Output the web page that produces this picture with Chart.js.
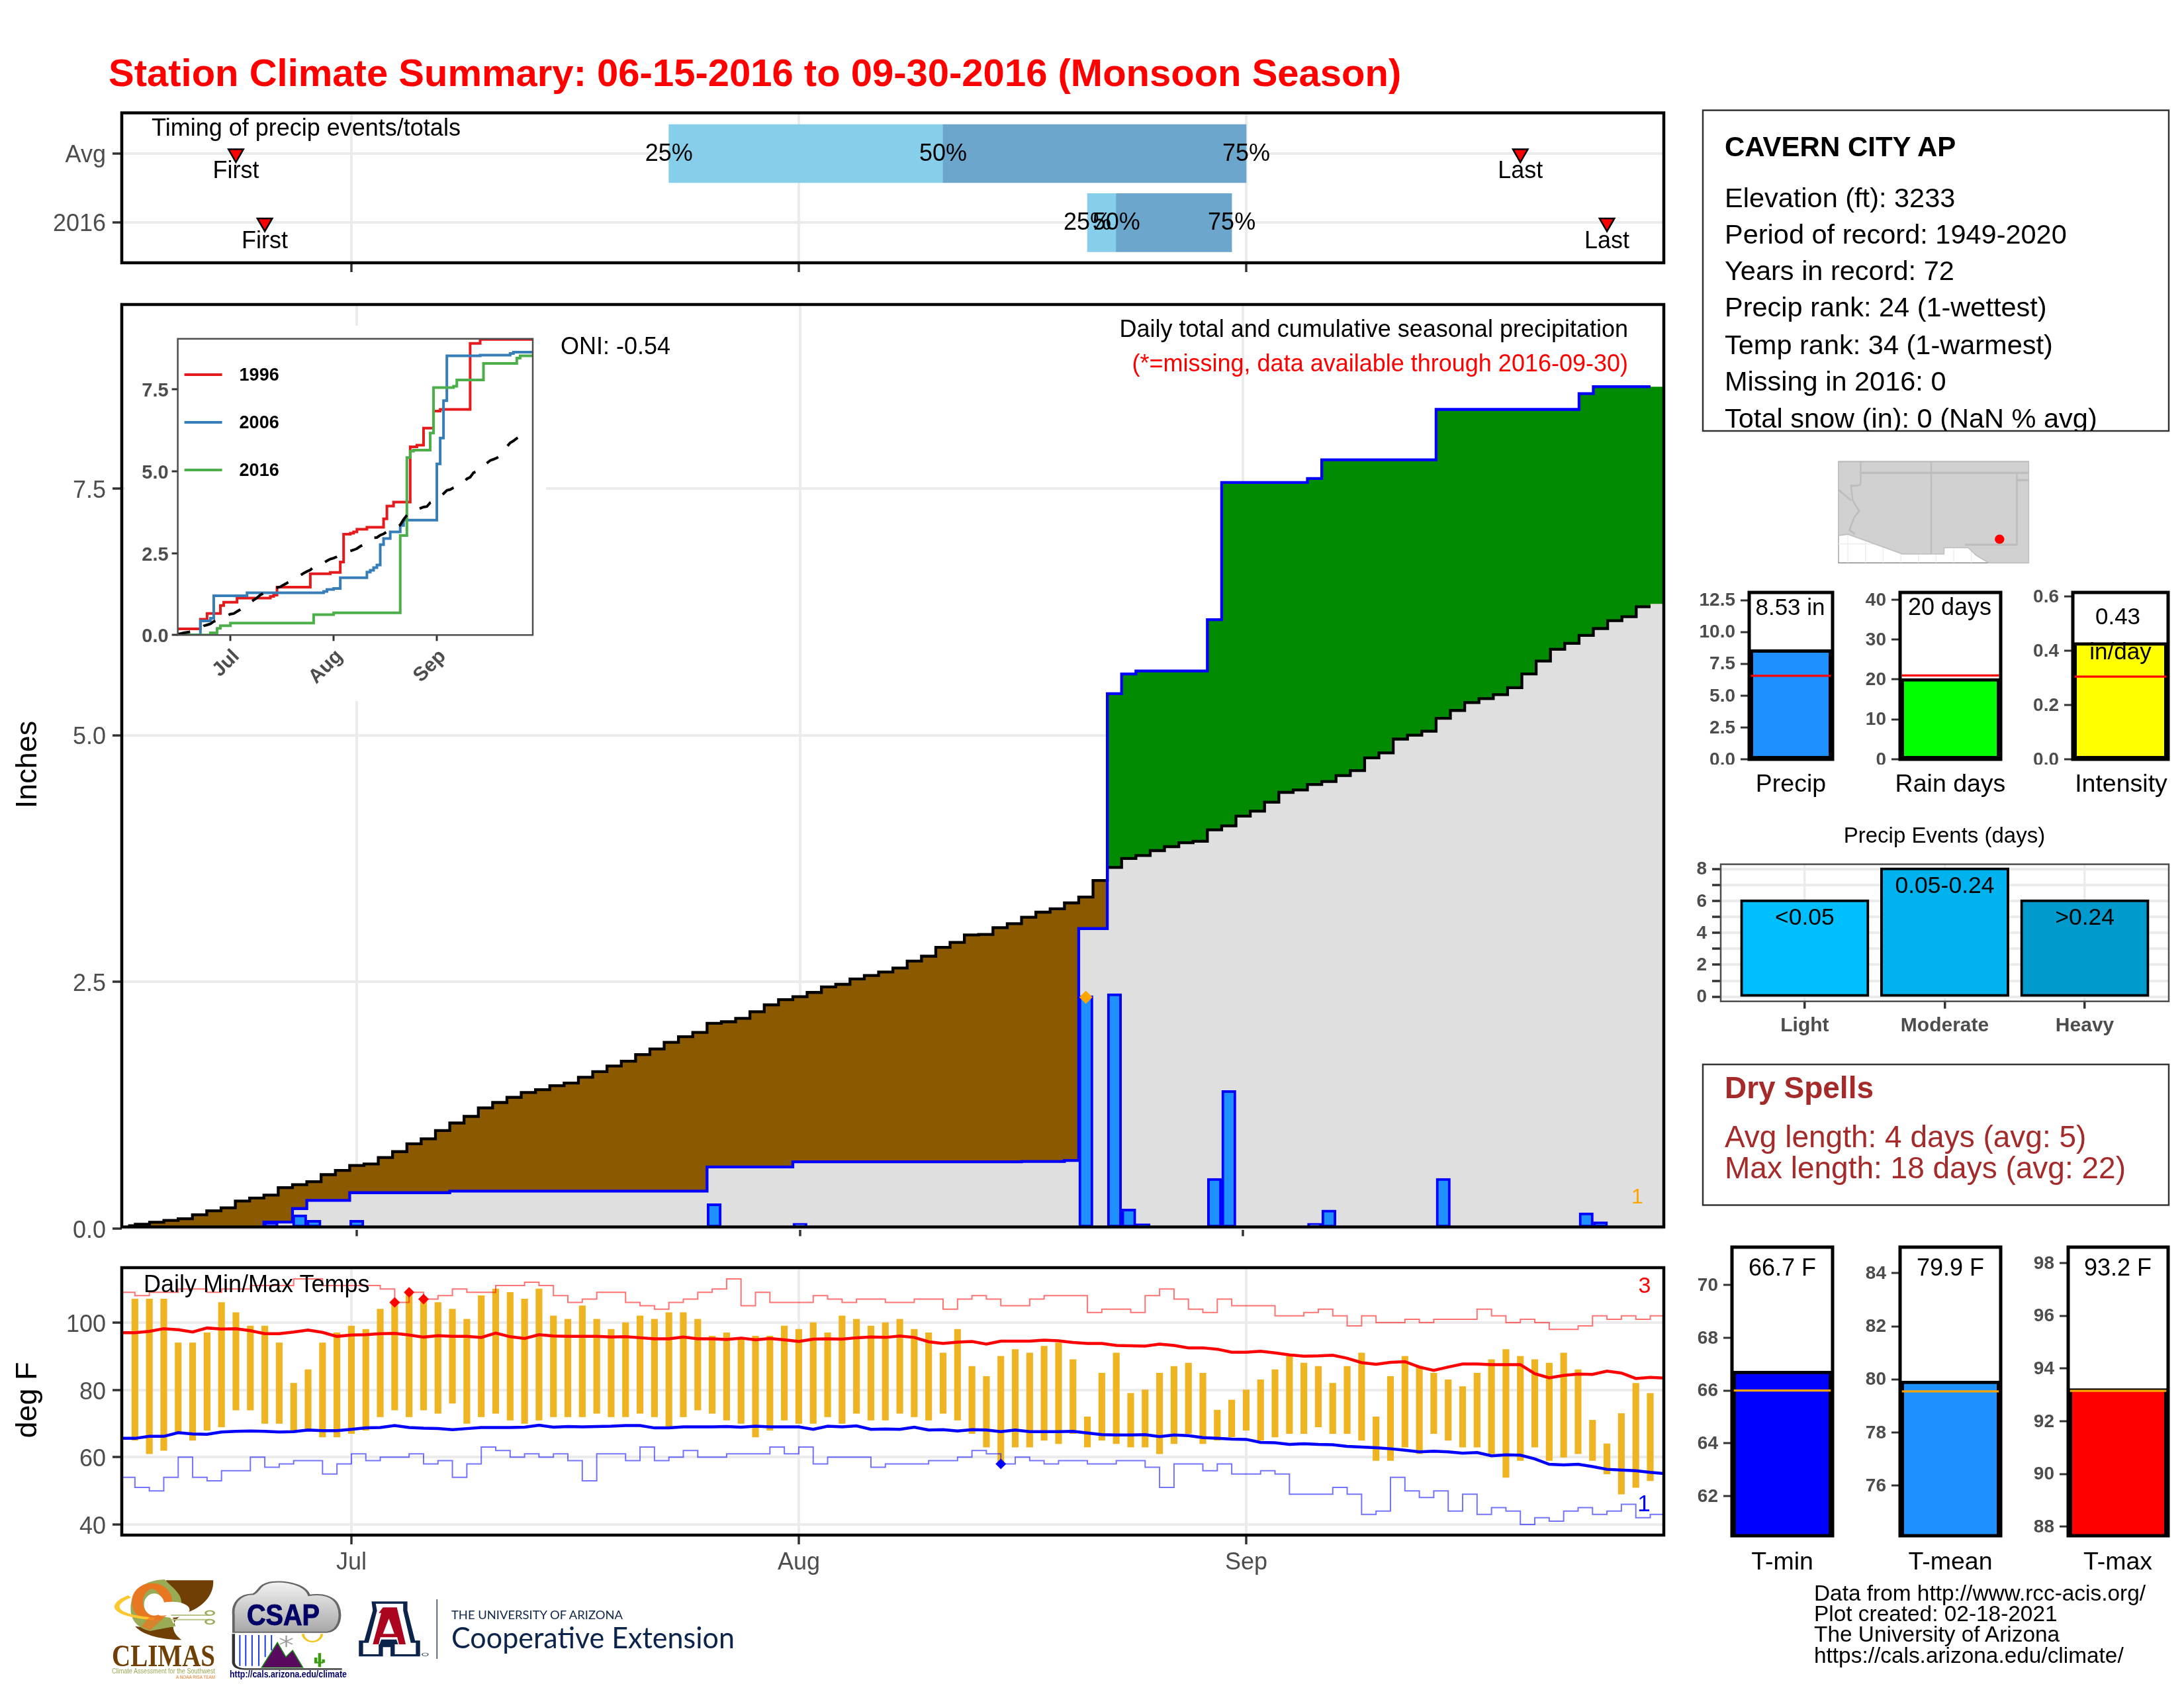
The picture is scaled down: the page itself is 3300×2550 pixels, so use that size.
<!DOCTYPE html>
<html><head><meta charset="utf-8">
<script src="https://cdn.jsdelivr.net/npm/chart.js@4/dist/chart.umd.js"></script>
<style>
html,body{margin:0;padding:0;background:#fff;width:3300px;height:2550px;overflow:hidden}
canvas{position:absolute;display:block}
svg{position:absolute;left:0;top:0;z-index:20}
</style></head><body>
<script>
// ---------- DATA ----------
const monthTicks=[16,47,78];
const monthLabels=['Jul','Aug','Sep'];
// cumulative average precip, one per day from Jun 15 (index 0)
const avgCum=[.03,.044,.065,.083,.10,.14,.18,.21,.28,.31,.34,.415,.445,.475,.547,.59,.64,.655,.72,.78,.86,.91,.994,1.07,1.137,1.224,1.278,1.33,1.38,1.408,1.448,1.475,1.533,1.59,1.647,1.696,1.763,1.82,1.888,1.944,1.988,2.08,2.096,2.13,2.198,2.267,2.32,2.35,2.393,2.449,2.475,2.529,2.565,2.60,2.64,2.71,2.76,2.85,2.90,2.975,2.98,3.05,3.09,3.155,3.206,3.24,3.30,3.36,3.527,3.66,3.75,3.78,3.83,3.87,3.91,3.925,4.04,4.08,4.18,4.23,4.32,4.42,4.445,4.50,4.53,4.59,4.64,4.77,4.82,4.96,5.0,5.04,5.17,5.25,5.33,5.37,5.41,5.48,5.62,5.75,5.87,5.93,6.01,6.08,6.16,6.20,6.30,6.33];
// cumulative 2016 precip
const obsCum=[0,0,0,0,0,0,0,0,0,0,.067,.067,.203,.286,.286,.286,.364,.364,.364,.364,.364,.364,.364,.38,.38,.38,.38,.38,.38,.38,.38,.38,.38,.38,.38,.38,.38,.38,.38,.38,.38,.625,.625,.625,.625,.625,.625,.677,.677,.677,.677,.677,.677,.677,.677,.677,.677,.677,.677,.677,.677,.677,.677,.68,.68,.68,.69,3.04,3.04,5.42,5.62,5.65,5.65,5.65,5.65,5.65,6.17,7.56,7.56,7.56,7.56,7.56,7.56,7.6,7.79,7.79,7.79,7.79,7.79,7.79,7.79,7.79,8.3,8.3,8.3,8.3,8.3,8.3,8.3,8.3,8.3,8.3,8.46,8.53,8.53,8.53,8.53,8.53];
// daily precip on rain days
const rainDays=[10,12,13,16,41,47,67,69,70,71,76,77,83,84,92,102,103];
const rainAmounts=[.067,.14,.085,.085,.253,.055,2.36,2.38,.2,.05,.51,1.4,.055,.19,.51,.16,.07];
const recordRainDays=[67];
const recordRainValues=[2.345];
// inset step series: day index of each change, and new level
const y1996Days=[0,7,9,13,14,18,28,29,30,40,46,49,50,52,53,54,57,62,63,65,70,72,74,77,79,88,91,107];
const y1996Vals=[.19,.48,.66,.9,1.0,1.13,1.18,1.22,1.46,1.87,1.91,2.23,3.08,3.11,3.15,3.23,3.29,3.55,3.94,4.06,5.75,5.80,6.32,6.84,6.89,8.91,9.03,9.03];
const y2006Days=[0,7,10,11,21,44,45,47,49,57,58,59,60,61,62,64,67,68,78,79,80,81,91,100,101,107];
const y2006Vals=[0,.43,.51,1.2,1.29,1.33,1.39,1.42,1.75,1.92,1.98,2.06,2.14,2.76,2.95,3.15,3.35,3.51,5.23,6.02,7.16,8.53,8.55,8.6,8.64,8.64];
const y2016Days=[0,10,12,13,16,41,47,67,69,70,71,76,77,83,84,92,102,103,107];
const y2016Vals=[0,.067,.203,.286,.364,.625,.677,3.04,5.42,5.62,5.65,6.17,7.56,7.6,7.79,8.3,8.46,8.53,8.53];
// daily max/min, index 1 .. 106 (Jun 16 ..)
const tMax=[107,107,107,94,94,97,106,103,99,99,94,82,86,94,97,99,98,104,106,109,107,106,104,101,108,110,109,107,110,102,101,105,101,98,100,102,101,103,103,101,96,97,95,96,96,99,98,100,97,102,101,99,100,101,98,97,91,98,87,84,90,92,91,93,94,89,72,85,91,79,80,85,87,88,85,74,77,80,83,86,90,88,87,82,87,91,72,84,90,87,85,83,81,85,89,92,90,89,88,91,86,71,64,73,82,79];
const tMin=[65,61,62,67,65,68,69,74,74,70,70,68,68,66,66,67,68,72,74,72,74,73,76,70,72,73,71,70,71,72,72,72,73,72,72,73,72,69,72,74,73,71,70,66,68,71,70,70,72,70,73,71,71,73,72,71,73,71,67,63,58,63,63,65,64,67,63,65,64,63,63,61,64,67,64,65,66,68,65,66,67,67,69,67,67,65,59,59,63,61,67,65,63,63,61,54,59,63,59,60,61,59,55,49,51,53];
// records and averages, index 0 .. 107
const recHigh=[109,108,109,109,110,110,109,110,110,111,111,111,113,113,111,111,111,111,110,106,109,107,108,110,109,109,111,111,112,111,108,106,107,109,109,106,105,104,106,107,109,110,113,105,109,106,106,106,108,107,106,107,107,106,106,107,107,104,107,108,107,105,105,107,108,108,108,103,104,104,103,108,110,107,104,103,107,105,105,105,102,102,103,104,102,99,102,100,100,101,100,101,101,101,104,102,100,101,100,98,98,99,102,101,102,101,102,102];
const recLow=[54,51,50,54,60,54,53,56,56,60,57,58,59,59,55,58,61,59,60,60,61,58,59,54,58,63,62,60,61,60,61,59,53,61,61,59,63,59,60,62,60,60,61,61,61,63,61,63,58,60,60,60,57,58,58,58,59,59,60,62,61,58,60,59,58,59,59,58,58,59,59,57,51,58,58,56,58,55,55,56,55,49,49,49,51,49,43,44,54,50,48,50,44,49,43,45,44,40,42,41,44,45,43,44,46,42,43,43];
const avgHigh=[97,97,97.4,98.2,97.9,97.2,98.4,98.1,98.2,97.6,96.7,96.7,97.2,97.8,97.1,95.9,96.3,96.4,96.7,96.8,96.3,95.7,96.1,95.9,95.9,95.6,96.9,95.8,95.3,96.4,96,95.9,95.9,95.9,95.7,95.8,95.5,95.2,95.2,95.7,95.2,95.2,95,95.4,94.9,95.3,94.9,94.4,95.1,95.2,95.1,95.5,95.7,95.6,96,95.6,94.3,93.8,94.2,94.4,93.6,94.5,94.5,94.5,94.8,94.6,94.1,93.8,93.8,93.2,93.1,93,93.6,93.2,92.5,92.5,92.1,91.2,91.2,91.5,91,90.4,90,90.1,90.3,89.4,88.1,87.6,88.2,88.4,86.8,85.8,86.8,87.7,87.7,87.5,87.5,87.5,84.8,83.6,84.3,84.7,84.6,85.6,85,83.4,83.7,83.5];
const avgLow=[65.6,65.6,66.2,66.2,67.3,66.9,66.8,67.5,67.7,67.8,67.7,67.5,67.6,68.1,67.9,67.9,68.3,68.7,68.8,69.4,68.8,68.6,68.5,68.2,68.5,68.8,68.8,68.8,68.9,69.5,68.9,69.1,69,69.1,69.2,69.4,69.4,68.7,68.7,69,69,69,69.1,68.9,69.2,69,69,69,68.3,69.2,69,69.3,68.3,68.4,68.3,68.9,68.1,68.2,67.8,68.2,68.1,67.6,68.1,67.6,67.6,67.6,67.7,67.2,66.7,66.6,66.6,66.7,66.1,66.6,66.4,65.8,65.6,65.4,65.3,64.4,64.3,63.8,64,63.8,63.7,63.2,63,62.8,62.5,62.1,61.6,61.8,61.6,61.2,61.4,60.4,60.7,60.6,59.5,57.9,57.7,57.9,57.2,56.4,56.2,56,55.5,55.1];
const recordHighDays=[19,20,21], recordHighVals=[106,109,107];
const recordLowDays=[61], recordLowVals=[58];
// timing panel
const timingRows=['2016','Avg'];
const avgQuartiles=[38,57,78], obsQuartiles=[67,69,77];
const avgFirstLast=[8,97], obsFirstLast=[10,103];
const quartileLabels=['25%','50%','75%'];
// summary bars
const precipTotal=8.53, precipAvg=6.56;
const rainDayCount=20, rainDayAvg=21;
const intensity=.427, intensityAvg=.305;
const eventNames=['Light','Moderate','Heavy'];
const eventRanges=['<0.05','0.05-0.24','>0.24'];
const eventCounts=[6,8,6];
const tMinMean=66.7, tMinAvg=66;
const tMeanMean=79.9, tMeanAvg=79.55;
const tMaxMean=93.2, tMaxAvg=93.15;

// ---------- HELPERS ----------
const FONT="'Liberation Sans'";
const GREY='#4d4d4d';
const inRange=(a,n)=>a.map((v,i)=>({x:i+n,y:v}));
function axis(axisName,min,max,vals,labels,o={}){
  return {type:'linear',axis:axisName,min,max,offset:false,border:{display:false},
    grid:{offset:false,color:o.gridColor||'#ebebeb',lineWidth:o.gridWidth===undefined?4:o.gridWidth,drawOnChartArea:o.onArea!==false,
      display:o.gridOff?false:true,drawTicks:!o.noTick,tickColor:o.tickColor||'#333333',tickWidth:o.tickWidth||3.5,tickLength:o.tickLength||14},
    ticks:{display:!!labels,autoSkip:false,maxRotation:o.rot||0,minRotation:o.rot||0,padding:o.pad===undefined?10:o.pad,labelOffset:o.lab||0,
      font:{family:FONT,size:o.size||36,weight:o.bold?'bold':'normal'},color:GREY,callback:(v,i)=>labels?labels[i]:''},
    afterBuildTicks:ax=>{ax.ticks=vals.map(v=>({value:v}));}};
}
function makeChart(box,plot,cfg,frame,extra){
  const c=document.createElement('canvas');
  c.width=box.r-box.l;c.height=box.b-box.t;
  c.style.left=box.l+'px';c.style.top=box.t+'px';c.style.width=c.width+'px';c.style.height=c.height+'px';
  if(cfg.bg)c.style.background=cfg.bg;
  if(cfg.z)c.style.zIndex=cfg.z;
  document.body.appendChild(c);
  const fitX=s=>{s.height=box.b-plot.b;s.paddingLeft=s.paddingRight=s.paddingTop=s.paddingBottom=0;};
  const fitY=s=>{s.width=plot.l-box.l;s.paddingLeft=s.paddingRight=s.paddingTop=s.paddingBottom=0;};
  cfg.scales.x.afterFit=fitX;cfg.scales.y.afterFit=fitY;
  const n=cfg.layers.length;
  cfg.layers.forEach((d,i)=>{d.order=n-i;});
  return new Chart(c,{type:'line',data:{datasets:cfg.layers},options:{
    responsive:false,animation:false,devicePixelRatio:1,events:[],
    layout:{padding:{left:0,bottom:0,top:plot.t-box.t,right:box.r-plot.r}},
    plugins:{legend:{display:false},tooltip:{enabled:false}},
    elements:{point:{radius:0}},scales:cfg.scales},
    plugins:[{id:'frame',afterDatasetsDraw(ch){
      const g=ch.ctx,a=ch.chartArea;
      g.save();
      if(extra)extra(ch,g);
      g.strokeStyle=frame.color;g.lineWidth=frame.width;
      g.strokeRect(a.left,a.top,a.right-a.left,a.bottom-a.top);
      g.restore();
    }}]});
}
const line=(data,color,width,o={})=>Object.assign({type:'line',data,borderColor:color,borderWidth:width,pointRadius:0,fill:false,tension:0},o);
const dots=(xs,ys,color,r)=>({type:'line',showLine:false,data:xs.map((x,i)=>({x,y:ys[i]})),pointStyle:'rectRot',pointRadius:r,pointBackgroundColor:color,pointBorderColor:color,pointBorderWidth:0});

// ---------- TIMING PANEL ----------
const tBox={l:0,t:155,r:2530,b:420},tPlot={l:184,t:167,r:2514,b:397};
makeChart(tBox,tPlot,{
  scales:{x:axis('x',.09,106.94,monthTicks,null),y:axis('y',-.58,1.589,[0,1],timingRows,{lab:3})},
  layers:[
    {type:'bar',indexAxis:'y',grouped:false,barThickness:88,backgroundColor:'#87CEEB',borderWidth:0,data:[{y:1,x:[avgQuartiles[0],avgQuartiles[1]]},{y:0,x:[obsQuartiles[0],obsQuartiles[1]]}]},
    {type:'bar',indexAxis:'y',grouped:false,barThickness:88,backgroundColor:'#6CA6CD',borderWidth:0,data:[{y:1,x:[avgQuartiles[1],avgQuartiles[2]]},{y:0,x:[obsQuartiles[1],obsQuartiles[2]]}]},
    {type:'line',showLine:false,data:[{x:avgFirstLast[0],y:1},{x:avgFirstLast[1],y:1},{x:obsFirstLast[0],y:0},{x:obsFirstLast[1],y:0}],
      pointStyle:'triangle',pointRotation:180,pointRadius:13,pointBackgroundColor:'#ff0000',pointBorderColor:'#000',pointBorderWidth:2.5}
  ]},{color:'#000',width:4.5},(ch,g)=>{
    const X=ch.scales.x,Y=ch.scales.y;
    g.fillStyle='#000';g.font='36px '+FONT;g.textAlign='center';g.textBaseline='middle';
    [[avgQuartiles,1],[obsQuartiles,0]].forEach(([q,row])=>q.forEach((v,i)=>g.fillText(quartileLabels[i],X.getPixelForValue(v),Y.getPixelForValue(row)+1)));
    g.textBaseline='alphabetic';
    [[avgFirstLast,1,37],[obsFirstLast,0,39]].forEach(([q,row,off])=>{
      g.fillText('First',X.getPixelForValue(q[0]),Y.getPixelForValue(row)+off);
      g.fillText('Last',X.getPixelForValue(q[1]),Y.getPixelForValue(row)+off);
    });
  });

// ---------- MAIN PRECIP PANEL ----------
const minSeries=avgCum.map((v,i)=>Math.min(v,obsCum[i]));
const fillPts=s=>inRange(s,0).concat([{x:108,y:s[s.length-1]}]);
const strokePts=s=>inRange(s.slice(0,107),0).concat([{x:106.5,y:s[106]}]);
makeChart({l:0,t:450,r:2530,b:1880},{l:184,t:459,r:2514,b:1853.5},{
  scales:{x:axis('x',-.444,107.43,monthTicks,null),y:axis('y',.017,9.363,[0,2.5,5,7.5],['0.0','2.5','5.0','7.5'],{lab:4})},
  layers:[
    line(fillPts(obsCum),'transparent',0,{stepped:'middle',fill:'origin',backgroundColor:'#008B00'}),
    line(fillPts(avgCum),'transparent',0,{stepped:'middle',fill:'origin',backgroundColor:'#8B5A00'}),
    line(fillPts(minSeries),'transparent',0,{stepped:'middle',fill:'origin',backgroundColor:'#DFDFDF'}),
    {type:'bar',grouped:false,barThickness:21.6,backgroundColor:'#1E90FF',borderColor:'#0000FF',borderWidth:4,borderSkipped:false,data:rainDays.map((d,i)=>({x:d,y:rainAmounts[i]}))},
    line(strokePts(avgCum),'#000',4.3,{stepped:'middle'}),
    line(strokePts(obsCum),'#0000FF',4.3,{stepped:'middle'}),
    dots(recordRainDays,recordRainValues,'#FFA500',10)
  ]},{color:'#000',width:4.5});

// ---------- INSET ----------
const steps=(xs,ys)=>xs.map((x,i)=>({x,y:ys[i]}));
makeChart({l:189,t:492,r:825,b:1059},{l:268.6,t:511.8,r:805,b:959.3},{
  bg:'#fff',z:5,
  scales:{x:axis('x',.2,106.8,monthTicks,monthLabels,{onArea:false,rot:45,size:30,bold:true,tickLength:9,tickWidth:3,pad:6,lab:9}),
          y:axis('y',0,9.05,[0,2.5,5,7.5],['0.0','2.5','5.0','7.5'],{onArea:false,size:29,bold:true,tickLength:9,tickWidth:3,pad:5,lab:3})},
  layers:[
    line(steps(y1996Days,y1996Vals),'#E41A1C',4,{stepped:true}),
    line(steps(y2006Days,y2006Vals),'#377EB8',4,{stepped:true}),
    line(steps(y2016Days,y2016Vals),'#4DAF4A',4,{stepped:true}),
    line(inRange(avgCum.slice(0,106),0),'#000',4,{borderDash:[20,22]})
  ]},{color:GREY,width:2.5},(ch,g)=>{
    const a=ch.chartArea;
    const rows=[['1996','#E41A1C',76],['2006','#377EB8',148],['2016','#4DAF4A',220]];
    rows.forEach(([t,c,dy])=>{
      const y=490+dy-ch.canvas.offsetTop;
      g.strokeStyle=c;g.lineWidth=4;g.beginPath();g.moveTo(a.left+10,y);g.lineTo(a.left+67,y);g.stroke();
      g.fillStyle='#000';g.font='bold 27px '+FONT;g.textAlign='left';g.textBaseline='middle';g.fillText(t,a.left+93,y+2);
    });
  });

// ---------- TEMPERATURE PANEL ----------
makeChart({l:0,t:1905,r:2530,b:2395},{l:184,t:1915,r:2514,b:2319},{
  scales:{x:axis('x',.09,106.94,monthTicks,monthLabels,{pad:6}),y:axis('y',36.85,116.33,[40,60,80,100],['40','60','80','100'],{lab:4})},
  layers:[
    {type:'bar',grouped:false,barThickness:9.5,backgroundColor:'#EEB422',borderWidth:0,data:tMax.map((v,i)=>({x:i+1,y:[tMin[i],v]}))},
    line(inRange(recHigh,0),'rgba(255,0,0,.55)',2,{stepped:true}),
    line(inRange(recLow,0),'rgba(0,0,255,.55)',2,{stepped:true}),
    line(inRange(avgHigh,0),'#ff0000',4.5),
    line(inRange(avgLow,0),'#0000ff',4.5),
    dots(recordHighDays,recordHighVals,'#ff0000',8),
    dots(recordLowDays,recordLowVals,'#0000ff',8)
  ]},{color:'#000',width:4.5});

// ---------- SMALL SUMMARY BARS ----------
function smallBar(plot,val,avg,color,refColor,ticks,tickLab,min,max){
  const w=plot.r-plot.l;
  makeChart({l:plot.l-100,t:plot.t-12,r:plot.r+8,b:plot.b+8},plot,{
    scales:{x:axis('x',.4,1.6,[1],null,{gridOff:true,noTick:true}),
            y:axis('y',min,max,ticks,tickLab,{gridOff:false,onArea:false,size:28,bold:true,tickLength:13,tickWidth:3,pad:8,lab:1})},
    layers:[
      {type:'bar',grouped:false,barThickness:w-6,inflateAmount:2,backgroundColor:color,borderColor:'#000',borderWidth:5,borderSkipped:false,data:[{x:1,y:val}]},
      line([{x:.42,y:avg},{x:1.58,y:avg}],refColor,3.2)
    ]},{color:'#000',width:5});
}
smallBar({l:2643,t:894.5,r:2769,b:1147},precipTotal,precipAvg,'#1E90FF','#ff0000',[0,2.5,5,7.5,10,12.5],['0.0','2.5','5.0','7.5','10.0','12.5'],0,13.1);
smallBar({l:2871,t:894.5,r:3023,b:1147},rainDayCount,rainDayAvg,'#00FF00','#ff0000',[0,10,20,30,40],['0','10','20','30','40'],0,41.8);
smallBar({l:3132,t:894.5,r:3276,b:1147},intensity,intensityAvg,'#FFFF00','#ff0000',[0,.2,.4,.6],['0.0','0.2','0.4','0.6'],0,.6155);
smallBar({l:2616.6,t:1884.4,r:2768.8,b:2321},tMinMean,tMinAvg,'#0000FF','#FFA500',[62,64,66,68,70],['62','64','66','68','70'],60.5,71.43);
smallBar({l:2871,t:1884.4,r:3023,b:2321},tMeanMean,tMeanAvg,'#1E90FF','#FFA500',[76,78,80,82,84],['76','78','80','82','84'],74.11,84.98);
smallBar({l:3125,t:1884.4,r:3276,b:2321},tMaxMean,tMaxAvg,'#FF0000','#FFA500',[88,90,92,94,96,98],['88','90','92','94','96','98'],87.66,98.6);

// ---------- PRECIP EVENTS ----------
makeChart({l:2500,t:1295,r:3285,b:1580},{l:2600,t:1305.6,r:3277,b:1512.7},{
  scales:{x:axis('x',.4,3.6,[1,2,3],eventNames,{size:30,bold:true,tickLength:11,pad:8,gridWidth:3.5}),
          y:axis('y',-.29,8.29,[0,1,2,3,4,5,6,7,8],['0','','2','','4','','6','','8'],{size:28,bold:true,tickLength:13,pad:8,lab:1})},
  layers:[
    {type:'bar',grouped:false,barThickness:191,inflateAmount:2,backgroundColor:['#00BFFF','#00B2EE','#009ACD'],borderColor:'#000',borderWidth:4,borderSkipped:false,
     data:eventCounts.map((v,i)=>({x:i+1,y:v}))}
  ]},{color:GREY,width:2.5},(ch,g)=>{
    const X=ch.scales.x,Y=ch.scales.y;
    g.fillStyle='#000';g.font='35.5px '+FONT;g.textAlign='center';g.textBaseline='alphabetic';
    eventRanges.forEach((t,i)=>g.fillText(t,X.getPixelForValue(i+1),Y.getPixelForValue(eventCounts[i])+36));
  });

// ---------- STATIC TEXT AND LOGOS ----------
const NS='http://www.w3.org/2000/svg';
const T=[ // text, x, baseline, size, colour, anchor, bold, clip
 ['Station Climate Summary: 06-15-2016 to 09-30-2016 (Monsoon Season)',164,130,58,'#ff0000','start',1],
 ['Timing of precip events/totals',229,205,36,'#000','start'],
 ['ONI: -0.54',847,535,36,'#000','start'],
 ['Daily total and cumulative seasonal precipitation',2460,509,36,'#000','end'],
 ['(*=missing, data available through 2016-09-30)',2460,561,36,'#ff0000','end'],
 ['1',2474,1818,32,'#FFA500','middle'],
 ['Daily Min/Max Temps',217,1952,36,'#000','start'],
 ['3',2485,1953,34,'#ff0000','middle'],
 ['1',2484,2283,35,'#0000ff','middle'],
 ['CAVERN CITY AP',2606,236,42,'#000','start',1],
 ['Elevation (ft): 3233',2606,312.6,41.5,'#000','start'],
 ['Period of record: 1949-2020',2606,368,41.5,'#000','start'],
 ['Years in record: 72',2606,423,41.5,'#000','start'],
 ['Precip rank: 24 (1-wettest)',2606,478,41.5,'#000','start'],
 ['Temp rank: 34 (1-warmest)',2606,534.6,41.5,'#000','start'],
 ['Missing in 2016: 0',2606,590,41.5,'#000','start'],
 ['Total snow (in): 0 (NaN % avg)',2606,645.5,41.5,'#000','start',0,'infoClip'],
 ['8.53 in',2705,929,35,'#000','middle'],
 ['20 days',2946,929,36,'#000','middle'],
 ['0.43',3200,943,35,'#000','middle'],
 ['in/day',3204,996,35,'#000','middle'],
 ['Precip',2706,1196,37.5,'#000','middle'],
 ['Rain days',2947,1196,37.5,'#000','middle'],
 ['Intensity',3205,1196,37.5,'#000','middle'],
 ['Precip Events (days)',2938,1273,33,'#000','middle'],
 ['Dry Spells',2606,1659,46,'#A52A2A','start',1],
 ['Avg length: 4 days (avg: 5)',2606,1733,46,'#A52A2A','start'],
 ['Max length: 18 days (avg: 22)',2606,1780,46,'#A52A2A','start'],
 ['66.7 F',2693,1927,36,'#000','middle'],
 ['79.9 F',2947,1927,36,'#000','middle'],
 ['93.2 F',3200,1927,36,'#000','middle'],
 ['T-min',2693,2371,37.5,'#000','middle'],
 ['T-mean',2947,2371,37.5,'#000','middle'],
 ['T-max',3200,2371,37.5,'#000','middle'],
 ['Data from http://www.rcc-acis.org/',2741,2418,33.4,'#000','start'],
 ['Plot created: 02-18-2021',2741,2449,33.4,'#000','start'],
 ['The University of Arizona',2741,2480,33.4,'#000','start'],
 ['https://cals.arizona.edu/climate/',2741,2511.6,33.4,'#000','start']
];
const esc=s=>s.replace(/&/g,'&amp;').replace(/</g,'&lt;').replace(/>/g,'&gt;');
let s='<svg xmlns="'+NS+'" width="3300" height="2550" viewBox="0 0 3300 2550">';
s+='<defs><clipPath id="infoClip"><rect x="2573" y="166" width="704" height="485"/></clipPath>'+
   '<linearGradient id="cl" x1="0" y1="0" x2="0" y2="1"><stop offset="0" stop-color="#f2f2f2"/><stop offset="1" stop-color="#a8a8a8"/></linearGradient></defs>';
s+='<rect x="2573" y="166.6" width="704" height="484.4" fill="none" stroke="#333" stroke-width="2.5"/>';
s+='<rect x="2573" y="1608" width="704" height="212.5" fill="none" stroke="#333" stroke-width="2.5"/>';
T.forEach(t=>{s+=`<text x="${t[1]}" y="${t[2]}" font-family="${FONT}" font-size="${t[3]}" fill="${t[4]}" text-anchor="${t[5]}"${t[6]?' font-weight="bold"':''}${t[7]?` clip-path="url(#${t[7]})"`:''}>${esc(t[0])}</text>`;});
s+=`<text transform="translate(55,1155) rotate(-90)" font-family="${FONT}" font-size="45" text-anchor="middle">Inches</text>`;
s+=`<text transform="translate(55,2115) rotate(-90)" font-family="${FONT}" font-size="45" text-anchor="middle">deg F</text>`;
// locator map (zoom coordinates)
s+='<g transform="translate(2540,150) scale(.4847,.6378)">'+
 '<rect x="491" y="858" width="593" height="240" fill="#fff" stroke="#777" stroke-width="2"/>'+
 '<path d="M520,1030V1098M575,1040V1098M630,1055V1098M685,1075V1098M740,1078V1098M795,1078V1098M850,1065V1098M905,1070V1098M491,1053H650" stroke="#eee" stroke-width="3" fill="none"/>'+
 '<path d="M491,859H1084V1098H960L920,1080L895,1062H820V1077H690L545,1037L520,1030L491,1033Z" fill="#d1d1d1" stroke="#c0c0c0" stroke-width="3"/>'+
 '<path d="M560,858V910Q558,917 530,915L535,950L555,975L540,990L525,1020L542,1030M491,925L530,950M560,885H1084M780,858V1077M1047,885V1055H885M1047,902H1084" fill="none" stroke="#bdbdbd" stroke-width="5"/>'+
 '<ellipse cx="993" cy="1042" rx="15" ry="11" fill="#ff0000"/></g>';
// logos (zoom coordinates)
s+='<g transform="translate(150,2300) scale(.6378,.3333)">'+
 '<path d="M158,262H270C272,330 245,385 205,410C170,440 165,490 195,532C140,530 100,505 85,470C120,480 150,480 180,470L170,400Z" fill="#6f3f05"/>'+
 '<path d="M155,258C90,262 70,340 75,410C78,450 95,480 120,492L180,470L165,420C195,400 200,370 190,330C180,300 165,280 155,258Z" fill="#9aab55"/>'+
 '<ellipse cx="125" cy="360" rx="35" ry="72" fill="none" stroke="#e87722" stroke-width="26"/>'+
 '<ellipse cx="172" cy="395" rx="42" ry="36" fill="#fff"/><ellipse cx="130" cy="372" rx="24" ry="50" fill="#fff"/>'+
 '<path d="M72,335C25,370 25,420 130,437" fill="none" stroke="#fdc82f" stroke-width="12"/>'+
 '<path d="M120,425L160,420L120,490L100,470Z" fill="#e87722" opacity=".75"/>'+
 '<path d="M170,420H262M170,440H262" stroke="#b9c38a" stroke-width="6"/><circle cx="262" cy="410" r="10" fill="none" stroke="#9aab55" stroke-width="5"/><circle cx="262" cy="450" r="10" fill="none" stroke="#9aab55" stroke-width="5"/>'+
 // CSAP
 '<path d="M318,497H540C570,490 575,420 565,375C555,335 530,320 497,330C490,285 445,262 410,270C375,280 382,310 365,325C330,325 315,370 318,420Z" fill="url(#cl)" stroke="#666" stroke-width="6"/>'+
 '<path d="M318,505V635Q320,663 345,664H575" fill="none" stroke="#333" stroke-width="7"/>'+
 '<path d="M333,510V650M347,510V650M362,510V650M378,510V650M393,510V610M408,510V580" stroke="#1133dd" stroke-width="3"/>'+
 '<path d="M385,657L422,545L442,610L458,580L482,657Z" fill="#5a0a5e" stroke="#1a7a1a" stroke-width="3"/>'+
 '<path d="M443,512V565M428,525L458,552M458,525L428,552" stroke="#999" stroke-width="3.5"/>'+
 '<path d="M483,505A22,35 0 0 0 527,505" fill="none" stroke="#f5c518" stroke-width="6"/>'+
 '<path d="M522,655V592M513,612V635H531M531,620V635" fill="none" stroke="#3a9a10" stroke-width="7"/>'+
 // UA
 '<path d="M645,358H730V398L748,535H760V607H690V565H672V607H615V535H628L648,398Z" fill="#0c234b"/>'+
 '<path d="M655,368H720V400L738,545H750V597H700V552H708L704,530H668L664,552H662V597H625V545H638L658,400Z" fill="#fff"/>'+
 '<path d="M672,385H705L726,552H710L706,520H666L662,552H648L668,410H662Z" fill="#ab0520"/>'+
 '<path d="M686,435L699,505H672Z" fill="#fff"/>'+
 '<circle cx="772" cy="598" r="7" fill="none" stroke="#0c234b" stroke-width="2"/>'+
 '<path d="M800,348V618" stroke="#0c234b" stroke-width="2"/></g>';
s+='<text x="169" y="2517" font-family="\'Liberation Serif\'" font-weight="bold" font-size="47" fill="#6f3f05" textLength="156" lengthAdjust="spacingAndGlyphs">CLIMAS</text>';
s+='<text x="169" y="2527.5" font-family="'+FONT+'" font-size="10" fill="#9aab55" textLength="156" lengthAdjust="spacingAndGlyphs">Climate Assessment for the Southwest</text>';
s+='<text x="266" y="2535.5" font-family="'+FONT+'" font-size="7" fill="#e87722" textLength="59" lengthAdjust="spacingAndGlyphs">A NOAA RISA TEAM</text>';
s+='<text x="373" y="2455" font-family="'+FONT+'" font-weight="bold" font-size="44" fill="#000066" stroke="#000066" stroke-width="1" textLength="110" lengthAdjust="spacingAndGlyphs">CSAP</text>';
s+='<text x="347" y="2534" font-family="'+FONT+'" font-weight="bold" font-size="14.5" fill="#000066" textLength="177" lengthAdjust="spacingAndGlyphs">http://cals.arizona.edu/climate</text>';
s+='<text x="682" y="2446" font-family="Lato" font-size="17.5" fill="#0c234b" textLength="259" lengthAdjust="spacingAndGlyphs">THE UNIVERSITY OF ARIZONA</text>';
s+='<text x="682" y="2490" font-family="Lato" font-size="44" fill="#0c234b" textLength="428" lengthAdjust="spacingAndGlyphs">Cooperative Extension</text>';
s+='</svg>';
document.body.insertAdjacentHTML('beforeend',s);
</script>
</body></html>
